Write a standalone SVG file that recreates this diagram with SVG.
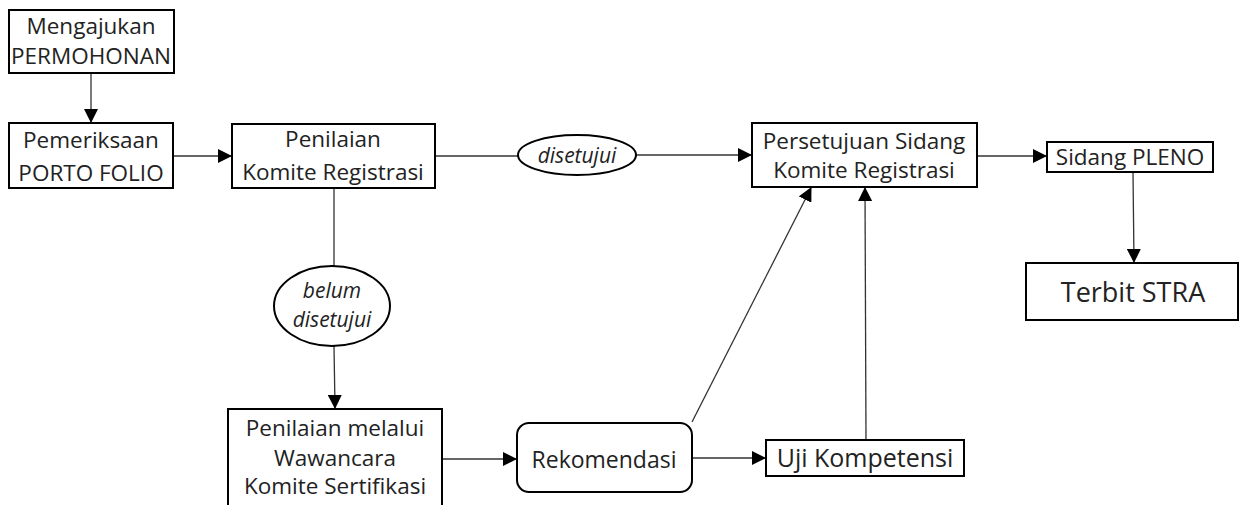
<svg xmlns="http://www.w3.org/2000/svg" width="1239" height="505" viewBox="0 0 1239 505">
<style>
.box{fill:#fff;stroke:#000;stroke-width:2}
.t{font-family:"Open Sans","Liberation Sans",sans-serif;font-size:22.5px;fill:#222;text-anchor:middle}
.i{font-style:italic}
.c{stroke:#333;stroke-width:1.3;fill:none}
</style>
<defs>
<marker id="ah" markerWidth="14" markerHeight="14" refX="13" refY="7" orient="auto" markerUnits="userSpaceOnUse">
<path d="M0,0 L14,7 L0,14 Z" fill="#000"/>
</marker>
</defs>
<rect width="1239" height="505" fill="#fff"/>
<g id="connectors">
<line class="c" x1="91" y1="73" x2="91" y2="122" marker-end="url(#ah)"/>
<line class="c" x1="173" y1="156" x2="231" y2="156" marker-end="url(#ah)"/>
<line class="c" x1="435" y1="156" x2="518" y2="156"/>
<line class="c" x1="636" y1="155" x2="751" y2="155" marker-end="url(#ah)"/>
<line class="c" x1="977" y1="156" x2="1046" y2="156" marker-end="url(#ah)"/>
<line class="c" x1="1133" y1="172" x2="1134" y2="262" marker-end="url(#ah)"/>
<line class="c" x1="334" y1="188" x2="334" y2="266"/>
<line class="c" x1="334" y1="346" x2="335" y2="408" marker-end="url(#ah)"/>
<line class="c" x1="442" y1="459" x2="516" y2="459" marker-end="url(#ah)"/>
<line class="c" x1="692" y1="458" x2="765" y2="458" marker-end="url(#ah)"/>
<line class="c" x1="866" y1="440" x2="865" y2="188" marker-end="url(#ah)"/>
<line class="c" x1="692" y1="422" x2="811" y2="188" marker-end="url(#ah)"/>
</g>
<g id="n1"><rect class="box" x="9" y="10" width="165" height="63"/><text class="t" x="91" y="34">Mengajukan</text><text class="t" x="91" y="64">PERMOHONAN</text></g>
<g id="n2"><rect class="box" x="9" y="123" width="164" height="65"/><text class="t" x="91" y="148">Pemeriksaan</text><text class="t" x="91" y="181">PORTO FOLIO</text></g>
<g id="n3"><rect class="box" x="232" y="124" width="203" height="64"/><text class="t" x="333" y="147">Penilaian</text><text class="t" x="333" y="180">Komite Registrasi</text></g>
<g id="e1"><ellipse class="box" cx="577" cy="155" rx="59" ry="20" stroke-width="1.8"/><text class="t i" x="577" y="163" style="font-size:21px">disetujui</text></g>
<g id="n4"><rect class="box" x="752" y="123" width="225" height="64"/><text class="t" x="864" y="149">Persetujuan Sidang</text><text class="t" x="864" y="178">Komite Registrasi</text></g>
<g id="n5"><rect class="box" x="1047" y="142" width="166" height="30"/><text class="t" x="1130" y="165">Sidang PLENO</text></g>
<g id="n6"><rect class="box" x="1026" y="263" width="212" height="57"/><text class="t" x="1133" y="302" style="font-size:27px">Terbit STRA</text></g>
<g id="e2"><ellipse class="box" cx="332" cy="306" rx="58" ry="40" stroke-width="1.8"/><text class="t i" x="332" y="298" style="font-size:21px">belum</text><text class="t i" x="332" y="327" style="font-size:21px">disetujui</text></g>
<g id="n7"><rect class="box" x="228" y="409" width="214" height="110"/><text class="t" x="335" y="436">Penilaian melalui</text><text class="t" x="335" y="466">Wawancara</text><text class="t" x="335" y="494">Komite Sertifikasi</text></g>
<g id="n8"><rect class="box" x="517" y="423" width="175" height="69" rx="12"/><text class="t" x="604" y="468" style="font-size:23px">Rekomendasi</text></g>
<g id="n9"><rect class="box" x="766" y="440" width="198" height="36"/><text class="t" x="865" y="467" style="font-size:25px">Uji Kompetensi</text></g>
</svg>
